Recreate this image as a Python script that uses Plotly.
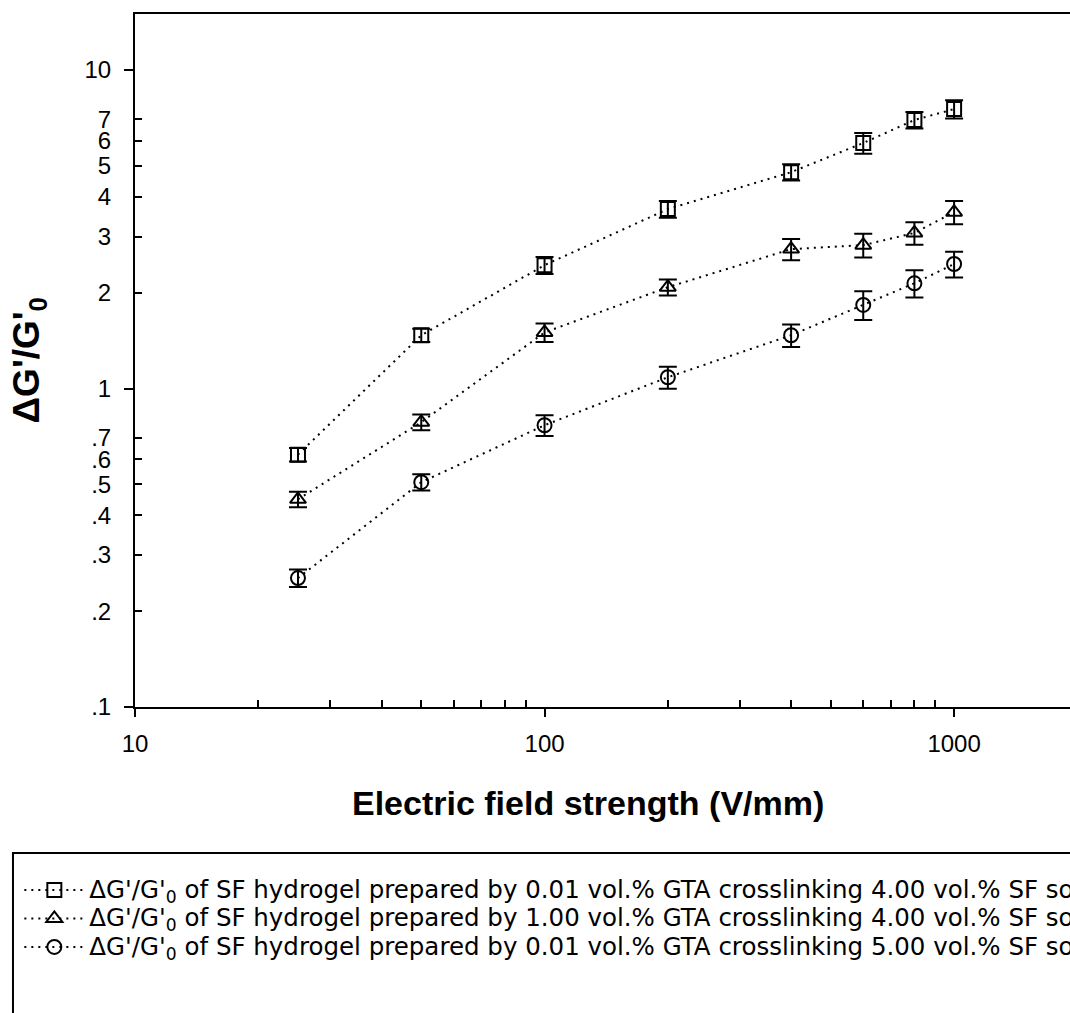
import plotly.graph_objects as go

# ---------------- data ----------------
field = [25, 50, 100, 200, 400, 600, 800, 1000]

sq_y = [0.62, 1.47, 2.44, 3.66, 4.78, 5.90, 6.97, 7.54]
sq_err = [0.03, 0.07, 0.15, 0.22, 0.28, 0.44, 0.42, 0.50]

tri_y = [0.449, 0.784, 1.50, 2.08, 2.74, 2.82, 3.08, 3.58]
tri_err = [0.025, 0.045, 0.10, 0.12, 0.21, 0.24, 0.25, 0.30]

cir_y = [0.254, 0.508, 0.767, 1.085, 1.47, 1.83, 2.14, 2.46]
cir_err = [0.016, 0.03, 0.057, 0.086, 0.12, 0.19, 0.21, 0.23]

series_names = [
    "ΔG'/G'<sub>0</sub> of SF hydrogel prepared by 0.01 vol.% GTA crosslinking 4.00 vol.% SF solution",
    "ΔG'/G'<sub>0</sub> of SF hydrogel prepared by 1.00 vol.% GTA crosslinking 4.00 vol.% SF solution",
    "ΔG'/G'<sub>0</sub> of SF hydrogel prepared by 0.01 vol.% GTA crosslinking 5.00 vol.% SF solution",
]
symbols = ["square-open", "triangle-up-open", "circle-open"]

y_tickvals = [0.1, 0.2, 0.3, 0.4, 0.5, 0.6, 0.7, 1, 2, 3, 4, 5, 6, 7, 10]
y_ticktext = [".1", ".2", ".3", ".4", ".5", ".6", ".7", "1", "2", "3", "4", "5", "6", "7", "10"]
y_minor = [0.2, 0.3, 0.4, 0.5, 0.6, 0.7, 2, 3, 4, 5, 6, 7]
y_major = [0.1, 1, 10]
x_major = [10, 100, 1000]
x_labels = ["10", "100", "1000"]
x_minor = [20, 30, 40, 50, 60, 70, 80, 90, 200, 300, 400, 500, 600, 700, 800, 900]

x_title = "Electric field strength (V/mm)"
y_title = "ΔG'/G'<sub>0</sub>"

# ---------------- figure ----------------
fig = go.Figure()
for ys, errs, sym, name in zip([sq_y, tri_y, cir_y], [sq_err, tri_err, cir_err], symbols, series_names):
    fig.add_trace(go.Scatter(
        x=field, y=ys,
        name="<span style='font-size:24.5px'>" + name + "</span>",
        mode="lines+markers",
        line=dict(color="black", width=2, dash="2px,5px"),
        marker=dict(symbol=sym, size=14, color="black", line=dict(width=2, color="black")),
        error_y=dict(type="data", array=errs, visible=True, color="black", thickness=2, width=9),
    ))

# invisible helper trace so the overlay axis (outside major ticks) is drawn
fig.add_trace(go.Scatter(x=[], y=[], yaxis="y2", showlegend=False, hoverinfo="skip"))

font_family = "Liberation Sans, Arial, sans-serif"

fig.update_layout(
    width=1070, height=1013,
    margin=dict(l=135, r=0, t=14, b=306, autoexpand=False),
    paper_bgcolor="white", plot_bgcolor="white",
    font=dict(family=font_family, color="black"),
    xaxis=dict(
        type="log", range=[1, 3.283],
        tickvals=x_major, ticktext=x_labels,
        ticks="outside", ticklen=8, tickwidth=2, tickcolor="black",
        minor=dict(tickvals=x_minor, ticks="inside", ticklen=7, tickwidth=1.5, tickcolor="black", showgrid=False),
        showline=True, linewidth=2, linecolor="black", mirror=True,
        showgrid=False, zeroline=False,
        tickfont=dict(size=24, family=font_family, color="black"),
        ticklabelstandoff=6,
    ),
    yaxis=dict(
        type="log", range=[-1, 1.176],
        tickvals=y_tickvals, ticktext=y_ticktext,
        ticks="",
        minor=dict(tickvals=y_minor, ticks="inside", ticklen=7, tickwidth=1.5, tickcolor="black", showgrid=False),
        showline=True, linewidth=2, linecolor="black", mirror=False,
        showgrid=False, zeroline=False,
        tickfont=dict(size=24, family=font_family, color="black"),
        ticklabelstandoff=17,
    ),
    yaxis2=dict(
        type="log", range=[-1, 1.176], overlaying="y", side="left", anchor="x",
        tickvals=y_major, ticks="outside", ticklen=10, tickwidth=2, tickcolor="black",
        showticklabels=False, showline=False, showgrid=False, zeroline=False,
    ),
    showlegend=True,
    legend=dict(
        x=-0.1237, xanchor="left", y=-0.2363, yanchor="top",
        font=dict(family="DejaVu Sans", size=19.6, color="black"),
        bgcolor="rgba(0,0,0,0)", borderwidth=0,
        itemwidth=60, tracegroupgap=0,
    ),
    annotations=[
        dict(text="<b>" + x_title + "</b>", xref="paper", yref="paper",
             x=0.484, y=-0.1385, xanchor="center", yanchor="middle", showarrow=False,
             font=dict(size=34, family=font_family, color="black")),
        dict(text="<b>" + y_title + "</b>", xref="paper", yref="paper",
             x=-0.1134, y=0.5, xanchor="center", yanchor="middle", showarrow=False, textangle=-90,
             font=dict(size=37, family=font_family, color="black")),
    ],
    shapes=[
        dict(type="rect", xref="paper", yref="paper", x0=-0.1305, x1=1.2, y0=-0.2107, y1=-0.5,
             line=dict(color="black", width=2), fillcolor="rgba(0,0,0,0)", layer="below"),
    ],
)

fig.write_html("out.html")
